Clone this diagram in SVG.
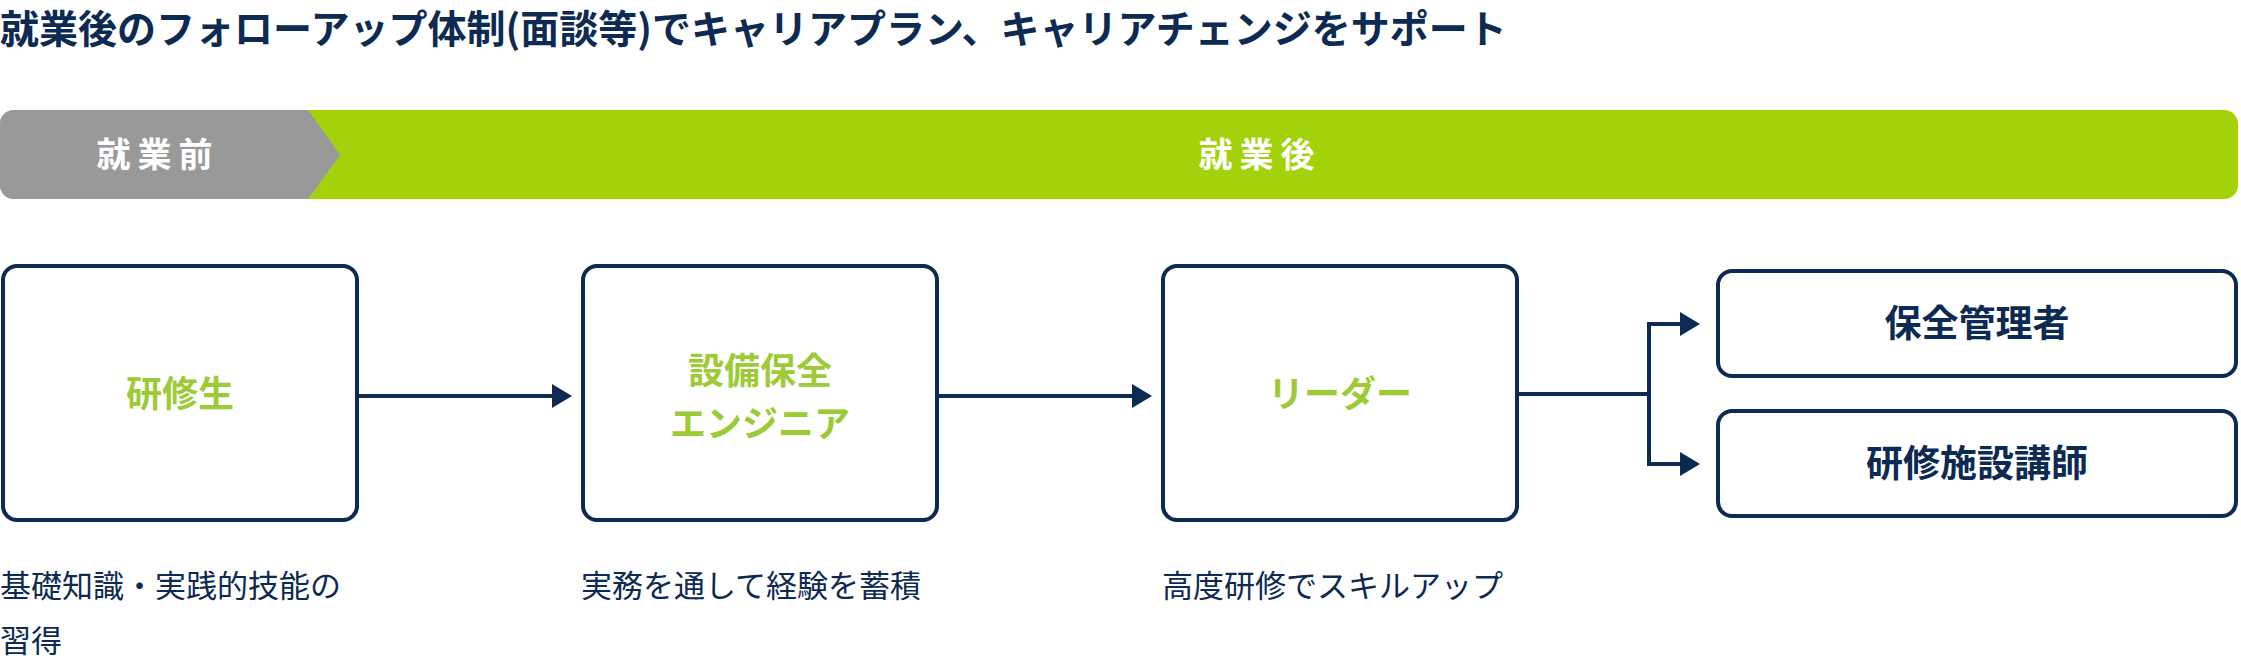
<svg xmlns="http://www.w3.org/2000/svg" width="2241" height="662" viewBox="0 0 2241 662">
<style>
text{font-family:"Noto Sans CJK JP","Noto Sans",sans-serif}
.box{fill:#fff;stroke:#0c2a52;stroke-width:4}
.gl{fill:#9dcb37;font-size:36px;font-weight:700;text-anchor:middle}
.nv{fill:#0c2a52;font-size:37px;font-weight:700;text-anchor:middle}
.ds{fill:#0c2a52;font-size:31px}
.bn{fill:#fff;font-size:34px;font-weight:700;text-anchor:middle;letter-spacing:7px}
.ln{fill:none;stroke:#0c2a52;stroke-width:4}
</style>
<defs><marker id="ah" markerWidth="5" markerHeight="6" refX="4" refY="3" orient="auto" markerUnits="strokeWidth"><path d="M0,0 L5,3 L0,6z" fill="#0c2a52"/></marker></defs>
<text x="0" y="43" style="fill:#0c2a52;font-size:39px;font-weight:700">就業後のフォローアップ体制(面談等)でキャリアプラン、キャリアチェンジをサポート</text>
<g id="banner">
<rect x="0" y="110" width="2238" height="89" rx="14" fill="#a3d20a"/>
<path d="M14,110 H308 L340,155 L308,199 H14 A14,14 0 0 1 0,185 V124 A14,14 0 0 1 14,110z" fill="#999"/>
<text class="bn" x="158" y="167">就業前</text>
<text class="bn" x="1260" y="167">就業後</text>
</g>
<g id="n1"><rect class="box" x="3" y="266" width="354" height="254" rx="14"/><text class="gl" x="180" y="407">研修生</text></g>
<g id="n2"><rect class="box" x="583" y="266" width="354" height="254" rx="14"/><text class="gl" x="760" y="384">設備保全</text><text class="gl" x="760" y="437">エンジニア</text></g>
<g id="n3"><rect class="box" x="1163" y="266" width="354" height="254" rx="14"/><text class="gl" x="1340" y="407">リーダー</text></g>
<g id="n4"><rect class="box" x="1718" y="271" width="518" height="105" rx="14"/><text class="nv" x="1977" y="337">保全管理者</text></g>
<g id="n5"><rect class="box" x="1718" y="411" width="518" height="105" rx="14"/><text class="nv" x="1977" y="477">研修施設講師</text></g>
<g id="d">
<text class="ds" x="0" y="597">基礎知識・実践的技能の</text>
<text class="ds" x="0" y="652">習得</text>
<text class="ds" x="581" y="597">実務を通して経験を蓄積</text>
<text class="ds" x="1162" y="597">高度研修でスキルアップ</text>
</g>
<g id="connectors">
<path class="ln" d="M357,396 H568" marker-end="url(#ah)"/>
<path class="ln" d="M937,396 H1148" marker-end="url(#ah)"/>
<path class="ln" d="M1517,394 H1649 V324 H1696" marker-end="url(#ah)"/>
<path class="ln" d="M1649,394 V464 H1696" marker-end="url(#ah)"/>
</g>
</svg>
